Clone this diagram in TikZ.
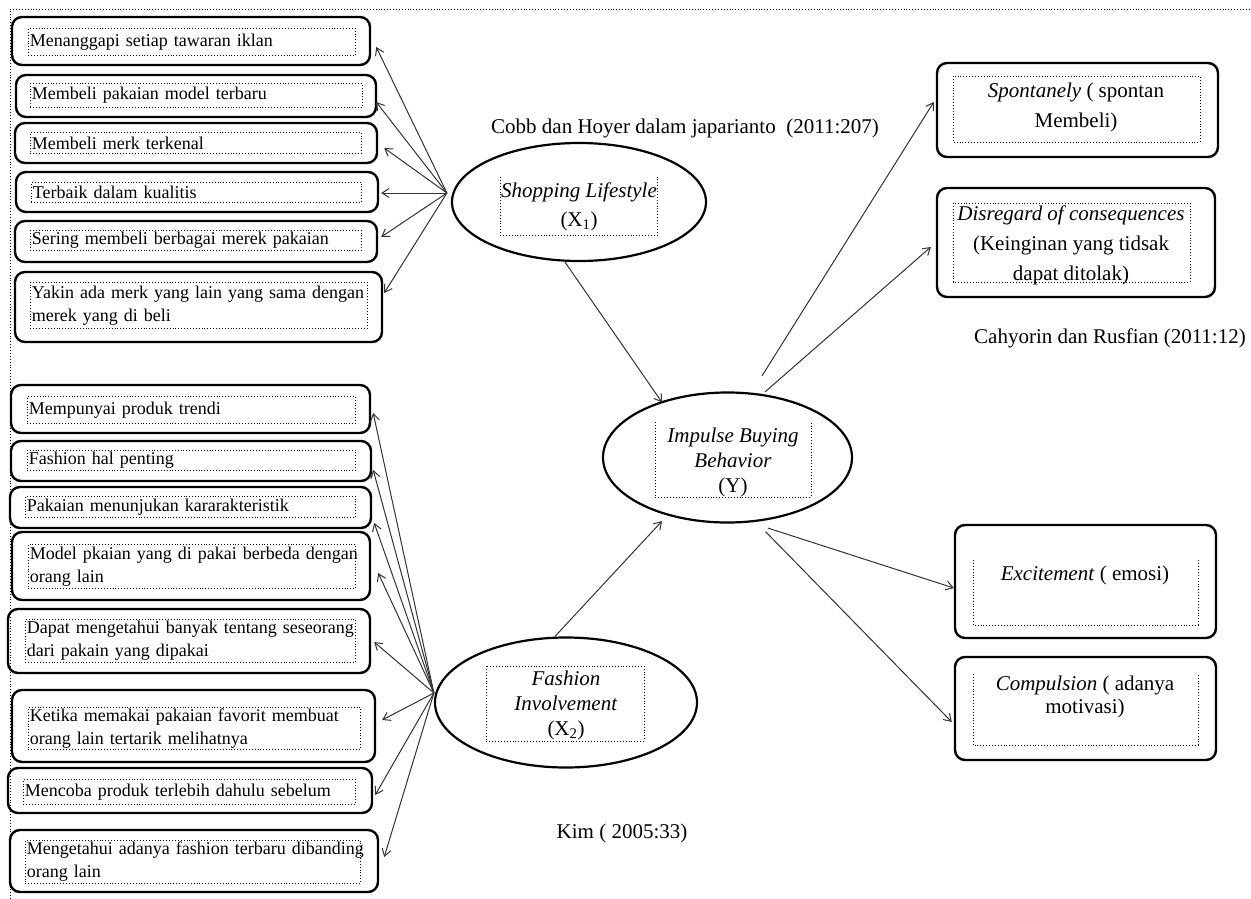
\documentclass[tikz,border=0pt]{standalone}
\usepackage{fontspec}
\setmainfont{Liberation Serif}
\usetikzlibrary{shapes.geometric,arrows.meta}
\begin{document}
\begin{tikzpicture}[x=1pt,y=-1pt,
  obox/.style={draw, line width=2.4pt, rounded corners=10pt, inner sep=0pt},
  ibox/.style={draw, dotted, line width=0.9pt, inner xsep=1.5pt, inner ysep=0pt, align=left, anchor=north west, font=\fontsize{18}{23}\selectfont},
  ell/.style={draw, ellipse, line width=2.2pt, inner sep=0pt},
  lbl/.style={font=\fontsize{21}{29}\selectfont, inner sep=0pt},
  rtxt/.style={font=\fontsize{21}{30}\selectfont, inner sep=0pt, align=center},
  arr/.style={draw=black!80, line width=1pt, -{Straight Barb[length=7pt,width=9pt]}},
  dots/.style={dotted, line width=0.9pt}]
\useasboundingbox (0,0) rectangle (1251,899);
\fill[white] (0,0) rectangle (1251,899);
% outer dotted frame
\draw[dots] (10,899) -- (10,9) -- (1251,9);

% ---- top-left boxes (Shopping Lifestyle indicators)
\node[obox, minimum width=358, minimum height=48] (t1) at (191,41) {};
\node[ibox, minimum height=27, text width=324] (t1i) at (28,28) {Menanggapi setiap tawaran iklan};
\node[obox, minimum width=360, minimum height=42] (t2) at (196,96) {};
\node[ibox, minimum height=24, text width=329] (t2i) at (30,83) {Membeli pakaian model terbaru};
\node[obox, minimum width=362, minimum height=40] (t3) at (196,143) {};
\node[ibox, minimum height=21, text width=328] (t3i) at (30,132) {Membeli merk terkenal};
\node[obox, minimum width=362, minimum height=40] (t4) at (197,192) {};
\node[ibox, minimum height=20, text width=327] (t4i) at (31,182) {Terbaik dalam kualitis};
\node[obox, minimum width=362, minimum height=41] (t5) at (196,241.5) {};
\node[ibox, minimum height=20, text width=328] (t5i) at (30,230) {Sering membeli berbagai merek pakaian};
\node[obox, minimum width=367, minimum height=70] (t6) at (198.5,307) {};
\node[ibox, minimum height=46, text width=334] (t6i) at (30,282) {\mbox{Yakin ada merk yang lain yang sama dengan}\\merek yang di beli};

% ---- bottom-left boxes (Fashion Involvement indicators)
\node[obox, minimum width=359, minimum height=48] (b1) at (190.5,409) {};
\node[ibox, minimum height=27, text width=325] (b1i) at (27,396) {Mempunyai produk trendi};
\node[obox, minimum width=360, minimum height=40] (b2) at (191,461) {};
\node[ibox, minimum height=20, text width=325] (b2i) at (27,450) {Fashion hal penting};
\node[obox, minimum width=361, minimum height=41] (b3) at (190.5,507.5) {};
\node[ibox, minimum height=21, text width=327] (b3i) at (25,496) {Pakaian menunjukan kararakteristik};
\node[obox, minimum width=358, minimum height=68] (b4) at (191,566) {};
\node[ibox, minimum height=44, text width=324] (b4i) at (28,544) {\mbox{Model pkaian yang di pakai berbeda dengan}\\orang lain};
\node[obox, minimum width=362, minimum height=64] (b5) at (189,641) {};
\node[ibox, minimum height=43, text width=327] (b5i) at (25,619) {\makebox[327pt][s]{Dapat mengetahui banyak tentang seseorang}\\dari pakain yang dipakai};
\node[obox, minimum width=363, minimum height=72] (b6) at (193.5,726) {};
\node[ibox, minimum height=42, text width=329] (b6i) at (28,707) {\makebox[329pt][s]{Ketika memakai pakaian favorit membuat}\\orang lain tertarik melihatnya};
\node[obox, minimum width=364, minimum height=45] (b7) at (190,790.5) {};
\node[ibox, minimum height=25, text width=329] (b7i) at (23,779) {Mencoba produk terlebih dahulu sebelum};
\node[obox, minimum width=368, minimum height=62] (b8) at (194,861) {};
\node[ibox, minimum height=43, text width=332] (b8i) at (25,840) {\mbox{Mengetahui adanya fashion terbaru dibanding}\\orang lain};

% ---- ellipses
\node[ell, minimum width=254, minimum height=118] (sl) at (579,202) {};
\draw[dots] (500,177) -- (500,235) -- (657,235) -- (657,177);
\node[rtxt, align=center, font=\fontsize{21}{29}\selectfont] (slt) at (579,207) {\textit{Shopping Lifestyle}\\(X\textsubscript{1})};

\node[ell, minimum width=249, minimum height=130] (ib) at (727.5,457.5) {};
\draw[dots] (655,422) -- (655,497) -- (811,497) -- (811,422);
\node[rtxt, font=\fontsize{21}{25}\selectfont] (ibt) at (733,462) {\textit{Impulse Buying}\\\textit{Behavior}\\(Y)};

\node[ell, minimum width=262, minimum height=130] (fi) at (566,702.5) {};
\draw[dots] (486,666) rectangle (644,741);
\node[rtxt, font=\fontsize{21}{25}\selectfont] (fit) at (566,705) {\textit{Fashion}\\\textit{Involvement}\\(X\textsubscript{2})};

% ---- right boxes
\node[obox, minimum width=281, minimum height=94] (r1) at (1077.5,110) {};
\draw[dots] (953,76) rectangle (1200,142);
\node[rtxt] (r1t) at (1076,107) {\textit{Spontanely} ( spontan\\Membeli)};

\node[obox, minimum width=278, minimum height=109] (r2) at (1076,242.5) {};
\draw[dots] (953,203) rectangle (1190,282);
\node[rtxt] (r2t) at (1071,245) {\textit{Disregard of consequences}\\(Keinginan yang tidsak\\dapat ditolak)};

\node[obox, minimum width=261, minimum height=113] (r3) at (1085.5,581.5) {};
\draw[dots] (973,560) -- (973,625) -- (1198,625) -- (1198,560);
\node[rtxt] (r3t) at (1085,575) {\textit{Excitement} ( emosi)};

\node[obox, minimum width=261, minimum height=103] (r4) at (1085.5,708.5) {};
\draw[dots] (973,674) -- (973,745) -- (1198,745) -- (1198,674);
\node[rtxt, font=\fontsize{21}{23}\selectfont] (r4t) at (1085,697) {\textit{Compulsion} ( adanya\\motivasi)};

% ---- source labels
\node[lbl] (cobb) at (685,128) {Cobb dan Hoyer dalam japarianto\ \ (2011:207)};
\node[lbl] (cahy) at (1110,338) {Cahyorin dan Rusfian (2011:12)};
\node[lbl] (kim) at (622,833) {Kim ( 2005:33)};

% ---- connectors: Shopping Lifestyle -> indicators
\draw[arr] ([shift={(-4,-9)}]sl.west) -- ([shift={(5,6)}]t1.east);
\draw[arr] ([shift={(-4,-9)}]sl.west) -- ([shift={(-1,6)}]t2.east);
\draw[arr] ([shift={(-4,-9)}]sl.west) -- ([shift={(6,5)}]t3.east);
\draw[arr] ([shift={(-4,-9)}]sl.west) -- ([shift={(2,1)}]t4.east);
\draw[arr] ([shift={(-4,-9)}]sl.west) -- ([shift={(3,-4.5)}]t5.east);
\draw[arr] ([shift={(-4,-9)}]sl.west) -- ([shift={(1,-14)}]t6.east);

% ---- Fashion Involvement -> indicators
\draw[arr] ([shift={(0,-9.5)}]fi.west) -- ([shift={(2,4)}]b1.east);
\draw[arr] ([shift={(0,-9.5)}]fi.west) -- ([shift={(1,9)}]b2.east);
\draw[arr] ([shift={(0,-9.5)}]fi.west) -- ([shift={(2,15.5)}]b3.east);
\draw[arr] ([shift={(0,-9.5)}]fi.west) -- ([shift={(7,7)}]b4.east);
\draw[arr] ([shift={(0,-9.5)}]fi.west) -- ([shift={(3,1)}]b5.east);
\draw[arr] ([shift={(0,-9.5)}]fi.west) -- ([shift={(6,-6)}]b6.east);
\draw[arr] ([shift={(0,-9.5)}]fi.west) -- ([shift={(2,4.5)}]b7.east);
\draw[arr] ([shift={(0,-9.5)}]fi.west) -- ([shift={(5,-4)}]b8.east);

% ---- X1, X2 -> Y
\draw[arr] ([shift={(-14,0)}]sl.south) -- ([shift={(-65.5,11)}]ib.north);
\draw[arr] ([shift={(-11,0)}]fi.north) -- ([shift={(-65.5,-2.5)}]ib.south);

% ---- Y -> right indicators
\draw[arr] ([shift={(34.5,-15.5)}]ib.north) -- ([shift={(-2,-8)}]r1.west);
\draw[arr] ([shift={(37.5,0.5)}]ib.north) -- ([shift={(-5,4.5)}]r2.west);
\draw[arr] ([shift={(40.5,4.5)}]ib.south) -- ([shift={(0,6.5)}]r3.west);
\draw[arr] ([shift={(38,8)}]ib.south) -- ([shift={(-2,13.5)}]r4.west);
\end{tikzpicture}
\end{document}
